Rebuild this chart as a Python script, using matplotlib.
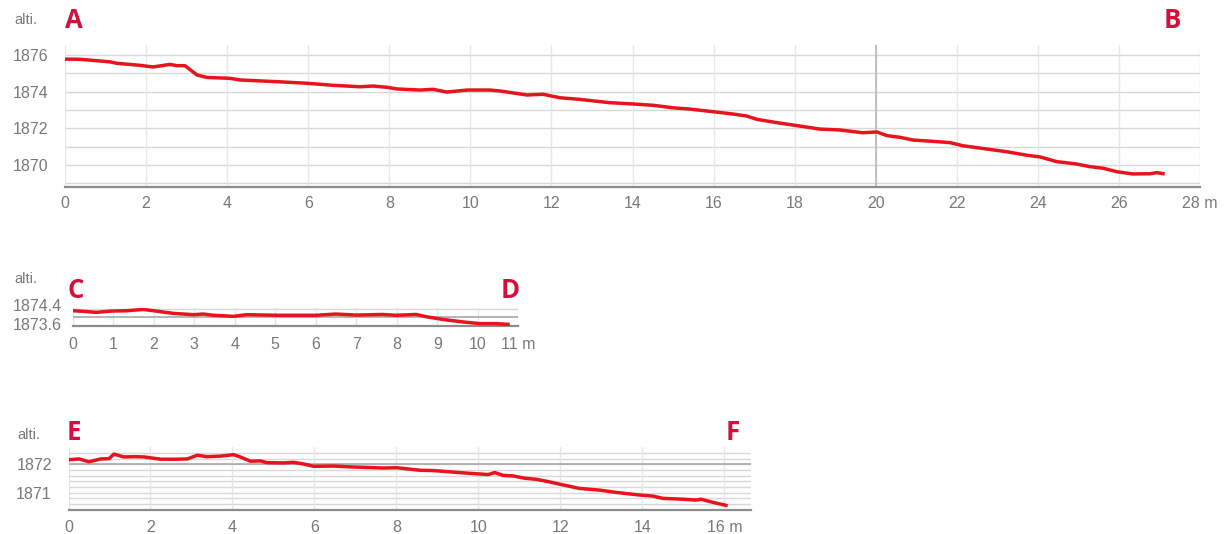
import matplotlib
matplotlib.use("Agg")
import matplotlib.pyplot as plt
from matplotlib.transforms import ScaledTranslation

W, H = 1226, 534

# profile A -> B (distance in m, altitude)
ab_dist = [0, 0.37, 1.11, 1.28, 1.85, 2.17, 2.59, 2.76, 2.96, 3.26,
           3.50, 4.07, 4.32, 5.30, 5.97, 6.61, 7.28, 7.60, 7.94, 8.19,
           8.76, 9.08, 9.42, 9.92, 10.48, 10.73, 11.40, 11.79, 12.21, 12.70,
           13.44, 14.01, 14.50, 15.00, 15.42, 15.98, 16.48, 16.82, 17.07, 17.56,
           17.96, 18.62, 19.12, 19.68, 20.03, 20.28, 20.60, 20.92, 21.41, 21.83,
           22.15, 22.74, 23.24, 23.73, 24.05, 24.47, 24.96, 25.28, 25.61, 25.95,
           26.34, 26.76, 26.94, 27.13]
ab_alt = [1875.78, 1875.77, 1875.63, 1875.55, 1875.44, 1875.35, 1875.49, 1875.42, 1875.42, 1874.91,
          1874.78, 1874.73, 1874.64, 1874.54, 1874.46, 1874.35, 1874.27, 1874.31, 1874.24, 1874.15,
          1874.09, 1874.13, 1873.98, 1874.09, 1874.09, 1874.04, 1873.82, 1873.86, 1873.67, 1873.58,
          1873.40, 1873.33, 1873.26, 1873.12, 1873.05, 1872.91, 1872.78, 1872.67, 1872.49, 1872.31,
          1872.18, 1871.96, 1871.91, 1871.76, 1871.80, 1871.60, 1871.51, 1871.36, 1871.29, 1871.22,
          1871.05, 1870.87, 1870.72, 1870.53, 1870.44, 1870.18, 1870.05, 1869.91, 1869.82, 1869.63,
          1869.51, 1869.52, 1869.58, 1869.51]

# profile C -> D
cd_dist = [0, 0.26, 0.59, 0.92, 1.33, 1.74, 1.99, 2.49, 2.98, 3.23,
           3.47, 3.97, 4.30, 4.79, 5.12, 5.34, 6.0, 6.50, 7.0, 7.65,
           7.98, 8.48, 8.73, 9.14, 9.64, 10.05, 10.45, 10.79]
cd_alt = [1874.32, 1874.29, 1874.24, 1874.30, 1874.32, 1874.38, 1874.32, 1874.19, 1874.13, 1874.16,
          1874.10, 1874.05, 1874.13, 1874.11, 1874.10, 1874.10, 1874.10, 1874.16, 1874.11, 1874.14,
          1874.10, 1874.14, 1874.03, 1873.90, 1873.78, 1873.70, 1873.70, 1873.66]

# profile E -> F
ef_dist = [0, 0.26, 0.50, 0.79, 0.99, 1.11, 1.35, 1.60, 1.84, 2.25,
           2.65, 2.90, 3.14, 3.38, 3.71, 4.03, 4.19, 4.44, 4.68, 4.84,
           5.25, 5.49, 5.74, 5.98, 6.47, 6.87, 7.28, 7.68, 8.01, 8.58,
           8.90, 9.71, 10.24, 10.40, 10.60, 10.85, 11.13, 11.42, 11.74, 11.98,
           12.47, 12.96, 13.36, 13.92, 14.26, 14.50, 14.99, 15.31, 15.43, 15.72,
           16.08]
ef_alt = [1872.16, 1872.19, 1872.09, 1872.19, 1872.20, 1872.36, 1872.26, 1872.27, 1872.26, 1872.18,
          1872.18, 1872.19, 1872.32, 1872.27, 1872.29, 1872.34, 1872.26, 1872.11, 1872.12, 1872.06,
          1872.05, 1872.07, 1872.01, 1871.93, 1871.94, 1871.91, 1871.89, 1871.87, 1871.88, 1871.79,
          1871.78, 1871.69, 1871.64, 1871.71, 1871.61, 1871.59, 1871.51, 1871.47, 1871.38, 1871.30,
          1871.15, 1871.09, 1871.01, 1870.92, 1870.88, 1870.80, 1870.77, 1870.74, 1870.77, 1870.66,
          1870.54]

ab_xticks = list(range(0, 29, 2))
cd_xticks = list(range(0, 12))
ef_xticks = list(range(0, 17, 2))

plt.rcParams['font.family'] = ['Liberation Sans', 'DejaVu Sans']

LINE = '#e8131d'
MARK = '#d3103a'
TXT = '#787878'

fig = plt.figure(figsize=(W / 100, H / 100), dpi=100)


def box(left, top, right, bottom):
    return [left / W, 1 - bottom / H, (right - left) / W, (bottom - top) / H]


def profile(rect, dist, alt, xlim, xticks, ylim, yticks, ylabels, ygrid,
            dark_x=None, dark_y=None, xpad=6, ypad=12):
    ax = fig.add_axes(rect)
    ax.set_xlim(*xlim)
    ax.set_ylim(*ylim)
    for y in ygrid:
        ax.axhline(y, color='#d8d8d8', lw=1, zorder=1)
    for x in xticks:
        ax.axvline(x, color='#e6e6e6', lw=1, zorder=1)
    if dark_x is not None:
        ax.axvline(dark_x, color='#b8b8b8', lw=1.2, zorder=1)
    if dark_y is not None:
        ax.axhline(dark_y, color='#a8a8a8', lw=1.2, zorder=1)
    ax.plot(dist, alt, color=LINE, lw=2.5, solid_capstyle='butt', zorder=3)
    ax.set_xticks(xticks)
    ax.set_xticklabels([str(t) for t in xticks[:-1]] + [f"{xticks[-1]} m"])
    ax.set_yticks(yticks)
    ax.set_yticklabels(ylabels)
    ax.tick_params(axis='x', length=0, colors=TXT, labelsize=11.5, pad=xpad)
    ax.tick_params(axis='y', length=0, colors=TXT, labelsize=11.5, pad=ypad)
    for s in ['top', 'right', 'left']:
        ax.spines[s].set_visible(False)
    ax.spines['bottom'].set_color('#8c8c8c')
    ax.spines['bottom'].set_linewidth(1.6)
    ax.set_facecolor('none')
    return ax


# A-B
profile(box(65, 45, 1200, 187.3), ab_dist, ab_alt, (0, 28), ab_xticks,
        (1868.78, 1876.55), [1870, 1872, 1874, 1876], ['1870', '1872', '1874', '1876'],
        list(range(1869, 1877)), dark_x=20, xpad=6, ypad=12)

# C-D
ax_cd = profile(box(72.7, 308, 518.3, 325.7), cd_dist, cd_alt, (0, 11), cd_xticks,
                (1873.6, 1874.45), [1873.6, 1874.4], ['1873.6', '1874.4'],
                [1874.4], dark_y=1874.0, xpad=8, ypad=8)
# labels sit a little above their gridlines in the original
for lab, dy in zip(ax_cd.get_yticklabels(), [2, 4]):
    lab.set_transform(lab.get_transform() + ScaledTranslation(0, dy / 100, fig.dpi_scale_trans))

# E-F
profile(box(68.5, 447.3, 751, 510), ef_dist, ef_alt, (0, 16.65), ef_xticks,
        (1870.39, 1872.6), [1871, 1872], ['1871', '1872'],
        [1870.6 + 0.2 * i for i in range(10)], dark_y=1872, xpad=7, ypad=12)


def ftext(x, y, s, **kw):
    fig.text(x / W, 1 - y / H, s, **kw)


for x, y in [(14, 20), (14, 279), (17, 435)]:
    ftext(x, y, "alti.", color=TXT, fontsize=10.5, ha='left', va='center')

for s, x, y in [("A", 74, 20), ("B", 1172, 20), ("C", 76, 290), ("D", 510, 290),
                ("E", 74, 432), ("F", 733, 432)]:
    ftext(x, y, s, color=MARK, fontsize=18.5, fontweight='bold',
          family=['Open Sans', 'DejaVu Sans'], ha='center', va='center')

plt.savefig("out.png", dpi=100)
